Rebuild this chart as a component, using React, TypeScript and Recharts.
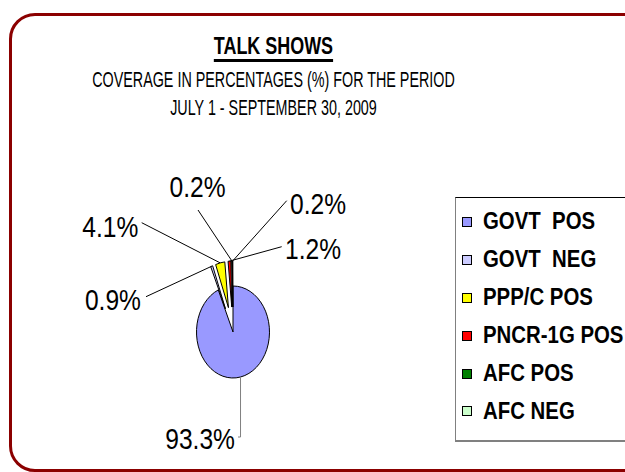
import React from 'react';
import { PieChart, Pie, Cell, Legend } from 'recharts';

// ---- data ----
const CATEGORIES = ['GOVT  POS', 'GOVT  NEG', 'PPP/C POS', 'PNCR-1G POS', 'AFC POS', 'AFC NEG'];
const VALUES = [93.3, 0.9, 4.1, 1.2, 0.2, 0.2];
const COLORS = ['#9999ff', '#ccccff', '#ffff00', '#ff0000', '#008000', '#ccffcc'];
const TITLE = 'TALK SHOWS';
const SUBTITLE_LINES = ['COVERAGE IN PERCENTAGES (%) FOR THE PERIOD', 'JULY 1 - SEPTEMBER 30, 2009'];

const data = CATEGORIES.map((name, i) => ({ name, value: VALUES[i] }));

// ---- layout / style ----
const FONT = '"Liberation Sans", Arial, sans-serif';
const LABEL_SCALE = 0.82; // emulate Arial Narrow
const SUB_SCALE = 0.667;
const TITLE_SCALE = 0.78;
const LEGEND_SCALE = 0.875;
const W = 625;
const H = 472;
const PIE_CX = 233;
const PIE_CY = 332;
const RADIUS = 36.5;
const ASPECT = 46 / 36.5; // the pie is drawn as a tilted ellipse
const EXPLODE = [0, 1, 1, 1, 1, 1];
const EXPLODE_X = 20;
const EXPLODE_Y = 25;
const RAD = Math.PI / 180;

// label placement relative to pie centre (best-fit style layout)
const LABEL_LAYOUT: { end: [number, number]; vertical?: boolean; tx: number; ty: number; anchor: 'start' | 'middle' | 'end' }[] = [
  { end: [5, 105], vertical: true, tx: 2, ty: 117, anchor: 'end' },
  { end: [-87, -35.3], tx: -92, ty: -22, anchor: 'end' },
  { end: [-91.3, -109.3], tx: -94.7, ty: -95.3, anchor: 'end' },
  { end: [48.7, -85.3], tx: 52, ty: -73, anchor: 'start' },
  { end: [-35, -122], tx: -35.5, ty: -135, anchor: 'middle' },
  { end: [53.7, -131.3], tx: 57, ty: -118, anchor: 'start' },
];

function explodeOffset(i: number, mid: number) {
  const k = EXPLODE[i] ?? 0;
  return [k * EXPLODE_X * Math.cos(-mid * RAD), k * EXPLODE_Y * Math.sin(-mid * RAD)];
}

function ellipsePoint(cx: number, cy: number, rx: number, ry: number, angle: number) {
  return [cx + rx * Math.cos(-angle * RAD), cy + ry * Math.sin(-angle * RAD)];
}

const SliceShape = (props: any) => {
  const { cx, cy, startAngle, endAngle, outerRadius, fill, payload } = props;
  let i = props.index;
  if (typeof i !== 'number') i = CATEGORIES.indexOf(payload?.name ?? props.name);
  const mid = (startAngle + endAngle) / 2;
  const [ox, oy] = explodeOffset(i, mid);
  const rx = outerRadius;
  const ry = outerRadius * ASPECT;
  const ccx = cx + ox;
  const ccy = cy + oy;
  const [x1, y1] = ellipsePoint(ccx, ccy, rx, ry, startAngle);
  const [x2, y2] = ellipsePoint(ccx, ccy, rx, ry, endAngle);
  const large = Math.abs(startAngle - endAngle) > 180 ? 1 : 0;
  const sweep = startAngle > endAngle ? 1 : 0;
  const d = `M${ccx},${ccy} L${x1},${y1} A${rx},${ry} 0 ${large} ${sweep} ${x2},${y2} Z`;
  return <path d={d} fill={fill} stroke="#000" strokeWidth={1} strokeLinejoin="round" />;
};

const NarrowText = ({ x, y, anchor, size, bold, scale, children }: any) => (
  <text
    transform={`translate(${x},${y}) scale(${scale},1)`}
    x={0}
    y={0}
    textAnchor={anchor}
    fontFamily={FONT}
    fontSize={size}
    fontWeight={bold ? 'bold' : 'normal'}
    fill="#000"
  >
    {children}
  </text>
);

const renderLabel = (props: any) => {
  const { cx, cy, midAngle, outerRadius, index, value } = props;
  const lay = LABEL_LAYOUT[index];
  if (!lay) return null;
  const [ox, oy] = explodeOffset(index, midAngle);
  const [sx, sy] = ellipsePoint(cx + ox, cy + oy, outerRadius, outerRadius * ASPECT, midAngle);
  const ex = cx + lay.end[0];
  const ey = cy + lay.end[1];
  const pts = lay.vertical ? [[sx, sy], [sx, ey], [ex, ey]] : [[sx, sy], [ex, ey]];
  return (
    <g>
      <polyline
        points={pts.map((p) => p.join(',')).join(' ')}
        fill="none"
        stroke={lay.vertical ? '#808080' : '#000'}
        strokeWidth={1}
      />
      <NarrowText x={cx + lay.tx} y={cy + lay.ty} anchor={lay.anchor} size={30} scale={LABEL_SCALE}>
        {`${Number(value).toFixed(1)}%`}
      </NarrowText>
    </g>
  );
};

const renderLegend = () => (
  <div
    style={{
      boxSizing: 'border-box',
      width: 210,
      height: 245,
      borderTop: '1px solid #000',
      borderLeft: '1px solid #808080',
      borderBottom: '2px solid #808080',
      background: '#fff',
      paddingTop: 5,
      fontFamily: FONT,
    }}
  >
    {CATEGORIES.map((c, i) => (
      <div key={c} style={{ height: 37.9, display: 'flex', alignItems: 'center' }}>
        <span
          style={{
            display: 'inline-block',
            width: 10,
            height: 10,
            marginLeft: 6,
            border: '1px solid #000',
            background: COLORS[i],
            boxSizing: 'border-box',
            flex: 'none',
          }}
        />
        <span
          style={{
            display: 'inline-block',
            marginLeft: 11,
            fontWeight: 'bold',
            fontSize: 23.3,
            whiteSpace: 'pre',
            lineHeight: 1,
            color: '#000',
            transform: `scaleX(${LEGEND_SCALE})`,
            transformOrigin: 'left center',
          }}
        >
          {c}
        </span>
      </div>
    ))}
  </div>
);

export default function App() {
  return (
    <div style={{ position: 'absolute', left: 0, top: 0, width: W, height: H, overflow: 'hidden', background: '#fff' }}>
      <div
        style={{
          position: 'absolute',
          left: 9,
          top: 13,
          width: 720,
          height: 459,
          boxSizing: 'border-box',
          border: '3px solid #8b0000',
          borderRadius: 26,
        }}
      />
      <div
        style={{
          position: 'absolute',
          left: 0,
          top: 35.3,
          width: 546,
          textAlign: 'center',
          fontFamily: FONT,
          fontWeight: 'bold',
          fontSize: 23,
          lineHeight: '23px',
          color: '#000',
        }}
      >
        <span
          style={{
            display: 'inline-block',
            textDecoration: 'underline',
            textDecorationThickness: 3,
            textUnderlineOffset: 5,
            transform: `scaleX(${TITLE_SCALE})`,
            transformOrigin: 'center center',
          }}
        >
          {TITLE}
        </span>
      </div>
      <svg width={W} height={H} style={{ position: 'absolute', left: 0, top: 0, pointerEvents: 'none' }}>
        {SUBTITLE_LINES.map((t, i) => (
          <NarrowText key={t} x={273.5} y={87 + i * 28} anchor="middle" size={21.5} scale={SUB_SCALE}>
            {t}
          </NarrowText>
        ))}
      </svg>
      <div style={{ position: 'absolute', left: 0, top: 0 }}>
        <PieChart width={W} height={H} margin={{ top: 0, right: 0, bottom: 0, left: 0 }}>
          <Pie
            data={data}
            dataKey="value"
            nameKey="name"
            cx={PIE_CX}
            cy={PIE_CY}
            outerRadius={RADIUS}
            startAngle={90}
            endAngle={-270}
            isAnimationActive={false}
            labelLine={false}
            label={renderLabel}
            shape={SliceShape}
            stroke="none"
          >
            {data.map((d, i) => (
              <Cell key={d.name} fill={COLORS[i]} />
            ))}
          </Pie>
          <Legend
            layout="vertical"
            align="right"
            verticalAlign="middle"
            wrapperStyle={{ left: 455, top: 197, width: 210, height: 245 }}
            content={renderLegend}
          />
        </PieChart>
      </div>
    </div>
  );
}
